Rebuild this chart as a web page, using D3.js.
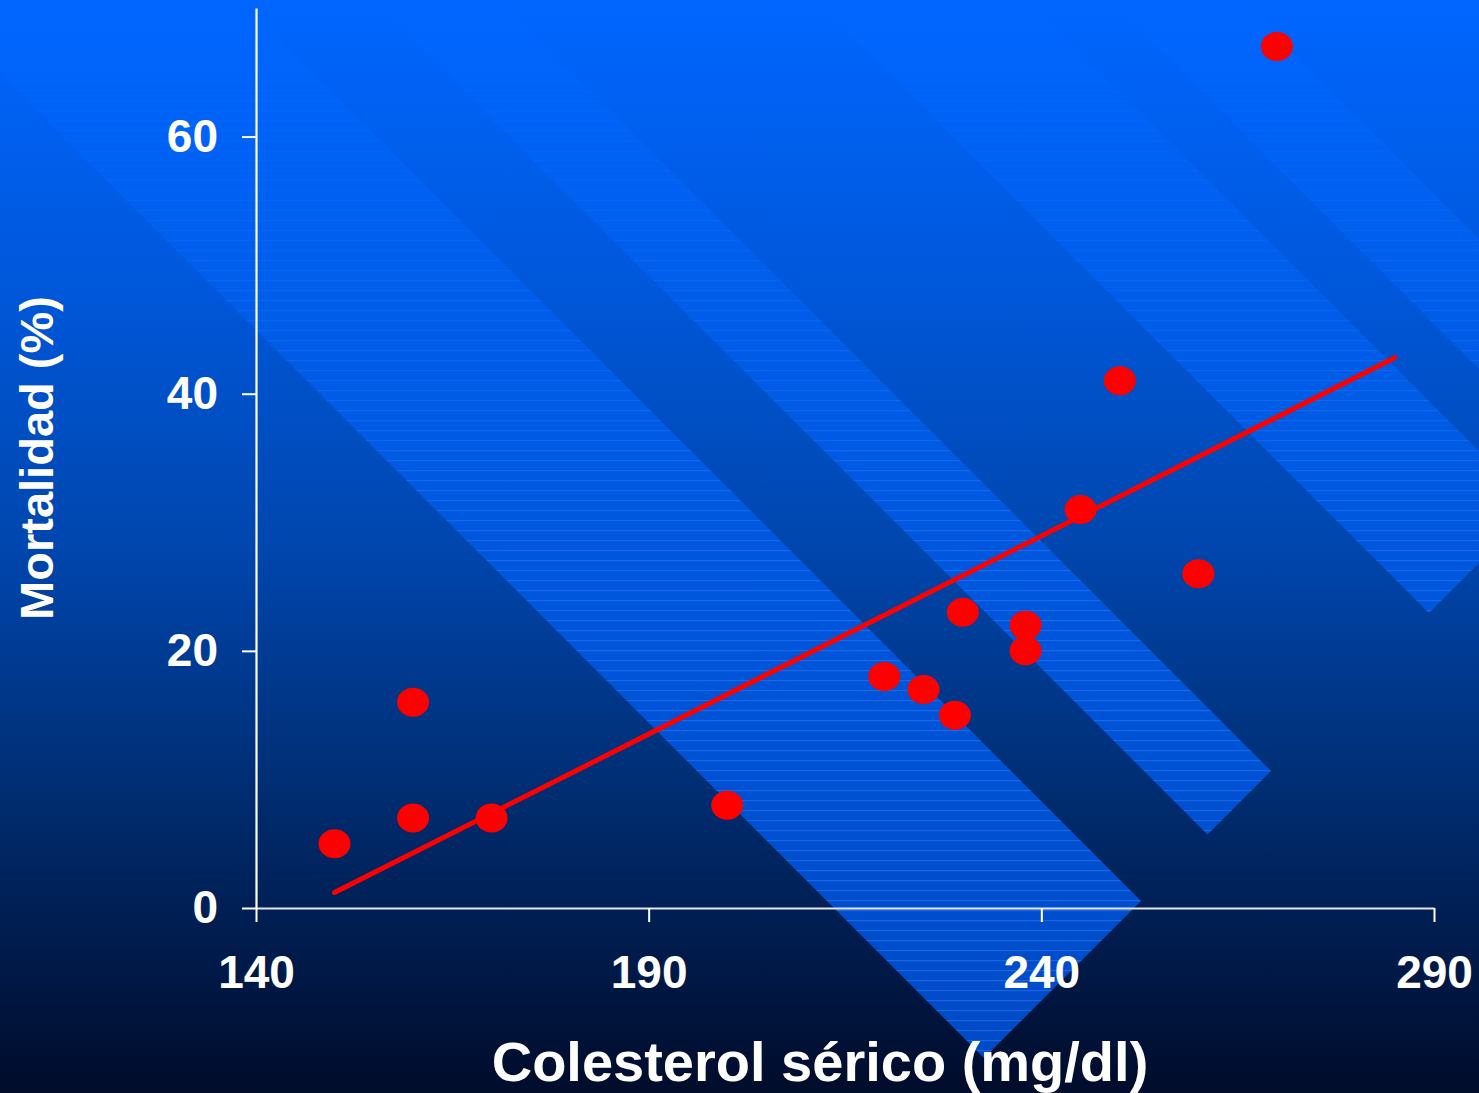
<!DOCTYPE html>
<html>
<head>
<meta charset="utf-8">
<script src="https://cdn.jsdelivr.net/npm/d3@7"></script>
<style>
    html, body { margin: 0; padding: 0; background: #000c2a; overflow: hidden; }
    svg { display: block; }
</style>
</head>
<body>
<svg id="chart" width="1479" height="1093"></svg>
<script>
var colesterol = [150, 160, 160, 170, 200, 220, 225, 229, 230, 238, 238, 245, 250, 260, 270];
var mortalidad = [5, 16, 7, 7, 8, 18, 17, 15, 23, 22, 20, 31, 41, 26, 67];
var trendX = [150, 285];
var trendY = [1.2, 42.8];
var xTicks = [140, 190, 240, 290];
var yTicks = [0, 20, 40, 60];
var xTitle = "Colesterol sérico (mg/dl)";
var yTitle = "Mortalidad (%)";

var svg = d3.select("#chart"),
    width = +svg.attr("width"),
    height = +svg.attr("height");

var font = "'Liberation Sans', Arial, Helvetica, sans-serif";

var x = d3.scaleLinear().domain([140, 290]).range([256, 1434]);
var y = d3.scaleLinear().domain([0, 70]).range([908, 8]);

// fondo degradado
var defs = svg.append("defs");

var bg = defs.append("linearGradient")
    .attr("id", "bg")
    .attr("gradientUnits", "userSpaceOnUse")
    .attr("x1", 0).attr("y1", 0).attr("x2", 0).attr("y2", height);
[[0, "#0066ff"], [0.25, "#0058dc"], [0.5, "#0046ae"], [0.7, "#003078"], [0.85, "#001d50"], [1, "#000c2a"]]
    .forEach(function (s) {
        bg.append("stop").attr("offset", s[0]).attr("stop-color", s[1]);
    });

var bandFill = defs.append("linearGradient")
    .attr("id", "bandFill")
    .attr("gradientUnits", "userSpaceOnUse")
    .attr("x1", 0).attr("y1", 0).attr("x2", 0).attr("y2", 1060);
[[0, "#0066ff"], [0.3, "#005de9"], [0.6, "#0055da"], [1, "#004ac6"]]
    .forEach(function (s) {
        bandFill.append("stop").attr("offset", s[0]).attr("stop-color", s[1]);
    });

// las rayas horizontales casi no se ven arriba
var fade = defs.append("linearGradient")
    .attr("id", "fade")
    .attr("gradientUnits", "userSpaceOnUse")
    .attr("x1", 0).attr("y1", 0).attr("x2", 0).attr("y2", height);
[[0, 0.05], [0.25, 0.35], [0.5, 0.9], [1, 1]]
    .forEach(function (s) {
        fade.append("stop").attr("offset", s[0]).attr("stop-color", "#ffffff").attr("stop-opacity", s[1]);
    });
defs.append("mask")
    .attr("id", "fadeMask")
    .attr("maskUnits", "userSpaceOnUse")
    .attr("x", 0).attr("y", 0).attr("width", width).attr("height", height)
    .append("rect")
    .attr("width", width)
    .attr("height", height)
    .attr("fill", "url(#fade)");

var hatch = defs.append("pattern")
    .attr("id", "hatch")
    .attr("patternUnits", "userSpaceOnUse")
    .attr("width", 8)
    .attr("height", 10);
hatch.append("rect")
    .attr("width", 8)
    .attr("height", 1.2)
    .attr("fill", "#3a84ff")
    .attr("opacity", 0.45);

svg.append("rect")
    .attr("width", width)
    .attr("height", height)
    .attr("fill", "url(#bg)");

// franjas diagonales (bordes x = y + offset, corte en x + y = cut)
var bands = [[-74, 240], [373, 500], [816, 1028], [1110, 1240]];
var cut = 2042;

function bandPath(b) {
    var L = b[0], R = b[1];
    return "M" + L + ",0L" + R + ",0"
        + "L" + (cut + R) / 2 + "," + (cut - R) / 2
        + "L" + (cut + L) / 2 + "," + (cut - L) / 2 + "Z";
}

var bandG = svg.append("g");
bandG.selectAll(".band")
    .data(bands)
    .enter().append("path")
    .attr("class", "band")
    .attr("d", bandPath)
    .attr("fill", "url(#bandFill)");
bandG.append("g")
    .attr("mask", "url(#fadeMask)")
    .selectAll(".hatch")
    .data(bands)
    .enter().append("path")
    .attr("class", "hatch")
    .attr("d", bandPath)
    .attr("fill", "url(#hatch)");

// ejes
var xAxis = svg.append("g")
    .attr("transform", "translate(0," + y(0) + ")")
    .call(d3.axisBottom(x).tickValues(xTicks).tickSize(14).tickSizeOuter(0).tickPadding(33));

var yAxis = svg.append("g")
    .attr("transform", "translate(" + x(140) + ",0)")
    .call(d3.axisLeft(y).tickValues(yTicks).tickSize(14).tickSizeOuter(0).tickPadding(24));

xAxis.select(".domain").attr("stroke", "#e6e6e6").attr("stroke-width", 2);
yAxis.select(".domain").attr("stroke", "#ffffff").attr("stroke-width", 2.2);
svg.selectAll(".tick line").attr("stroke", "#ffffff").attr("stroke-width", 2);
svg.selectAll(".tick text")
    .attr("fill", "#ffffff")
    .attr("font-family", font)
    .attr("font-weight", "bold")
    .attr("font-size", "46px");

// recta de regresión
svg.append("line")
    .attr("x1", x(trendX[0]))
    .attr("y1", y(trendY[0]))
    .attr("x2", x(trendX[1]))
    .attr("y2", y(trendY[1]))
    .attr("stroke", "#ff0000")
    .attr("stroke-width", 5)
    .attr("stroke-linecap", "round");

// puntos
svg.selectAll(".punto")
    .data(colesterol.map(function (c, i) { return [c, mortalidad[i]]; }))
    .enter().append("ellipse")
    .attr("class", "punto")
    .attr("cx", function (d) { return x(d[0]); })
    .attr("cy", function (d) { return y(d[1]); })
    .attr("rx", 16)
    .attr("ry", 14.5)
    .attr("fill", "#ff0000");

// títulos
svg.append("text")
    .attr("x", 820)
    .attr("y", 1081)
    .attr("text-anchor", "middle")
    .attr("fill", "#ffffff")
    .attr("font-family", font)
    .attr("font-weight", "bold")
    .attr("font-size", "56px")
    .text(xTitle);

svg.append("text")
    .attr("transform", "translate(53,458) rotate(-90)")
    .attr("text-anchor", "middle")
    .attr("fill", "#ffffff")
    .attr("font-family", font)
    .attr("font-weight", "bold")
    .attr("font-size", "47px")
    .text(yTitle);
</script>
</body>
</html>
